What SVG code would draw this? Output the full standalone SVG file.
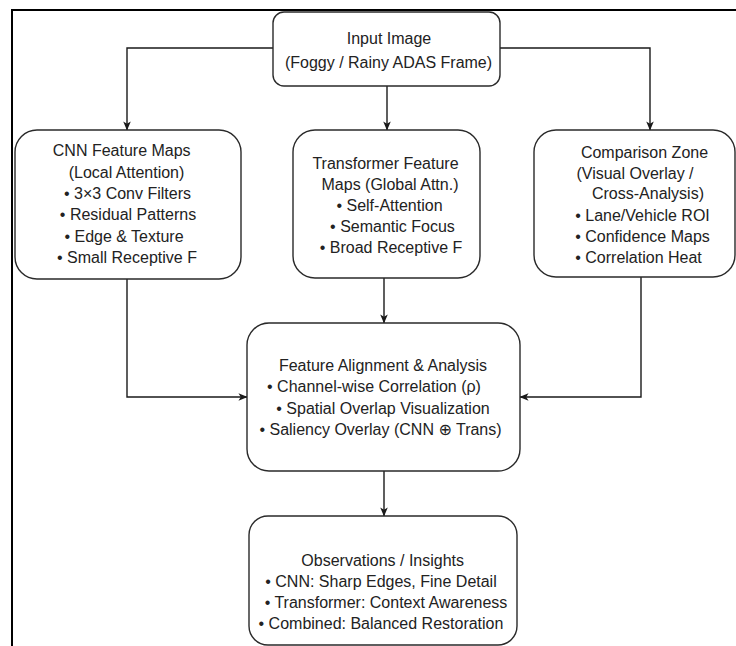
<svg xmlns="http://www.w3.org/2000/svg" width="736" height="646" viewBox="0 0 736 646">
<defs>
<style>
.box{fill:#fff;stroke:#2a2a2a;stroke-width:1.4}
.frame{fill:none;stroke:#000;stroke-width:2}
.edge{fill:none;stroke:#1a1a1a;stroke-width:1.4}
.t{font-family:"Liberation Sans",Arial,"DejaVu Sans",sans-serif;font-size:16px;fill:#222;text-anchor:middle}
</style>
<marker id="arr" viewBox="0 0 10 10" refX="9.5" refY="5" markerWidth="9" markerHeight="9" markerUnits="userSpaceOnUse" orient="auto">
<path d="M0,0.8 L10,5 L0,9.2 L2.6,5 z" fill="#1a1a1a"/>
</marker>
</defs>
<rect width="736" height="646" fill="#fff"/>
<path class="frame" d="M12,646 V10 H736"/>

<g id="connectors">
<path class="edge" d="M273,48 H127 V130" marker-end="url(#arr)"/>
<path class="edge" d="M387,86 V130" marker-end="url(#arr)"/>
<path class="edge" d="M500,48 H650 V130" marker-end="url(#arr)"/>
<path class="edge" d="M127,279 V397 H247" marker-end="url(#arr)"/>
<path class="edge" d="M384,278 V323" marker-end="url(#arr)"/>
<path class="edge" d="M641,277 V397 H520" marker-end="url(#arr)"/>
<path class="edge" d="M384,471 V516" marker-end="url(#arr)"/>
</g>

<g id="input-image">
<rect class="box" x="273" y="12" width="227" height="74" rx="11" ry="11"/>
<text class="t" x="389" y="43.5">Input Image</text>
<text class="t" x="388.5" y="67.5">(Foggy / Rainy ADAS Frame)</text>
</g>

<g id="cnn-feature-maps">
<rect class="box" x="15" y="130" width="226" height="149" rx="22" ry="22"/>
<text class="t" x="121.7" y="155.5">CNN Feature Maps</text>
<text class="t" x="126.5" y="177.5">(Local Attention)</text>
<text class="t" x="127.5" y="198.5">• 3×3 Conv Filters</text>
<text class="t" x="128" y="219.5">• Residual Patterns</text>
<text class="t" x="124" y="241.5">• Edge &amp; Texture</text>
<text class="t" x="127" y="262.5">• Small Receptive F</text>
</g>

<g id="transformer-feature-maps">
<rect class="box" x="293" y="130" width="187" height="148" rx="22" ry="22"/>
<text class="t" x="385.5" y="168.5">Transformer Feature</text>
<text class="t" x="390" y="189.5">Maps (Global Attn.)</text>
<text class="t" x="389.5" y="210.5">• Self-Attention</text>
<text class="t" x="392.5" y="231.5">• Semantic Focus</text>
<text class="t" x="391" y="252.5">• Broad Receptive F</text>
</g>

<g id="comparison-zone">
<rect class="box" x="534" y="130" width="201" height="147" rx="22" ry="22"/>
<text class="t" x="644.5" y="157.5">Comparison Zone</text>
<text class="t" x="635" y="178.5">(Visual Overlay /</text>
<text class="t" x="648" y="198.5">Cross-Analysis)</text>
<text class="t" x="642.5" y="220.5">• Lane/Vehicle ROI</text>
<text class="t" x="642.5" y="241.5">• Confidence Maps</text>
<text class="t" x="638.5" y="262.5">• Correlation Heat</text>
</g>

<g id="feature-alignment">
<rect class="box" x="247" y="323" width="273" height="148" rx="22" ry="22"/>
<text class="t" x="383" y="370.5">Feature Alignment &amp; Analysis</text>
<text class="t" x="374" y="391.5">• Channel-wise Correlation (ρ)</text>
<text class="t" x="383" y="413.5">• Spatial Overlap Visualization</text>
<text class="t" x="380.5" y="434.5">• Saliency Overlay (CNN ⊕ Trans)</text>
</g>

<g id="observations">
<rect class="box" x="249" y="516" width="268" height="129" rx="19" ry="19"/>
<text class="t" x="382.7" y="565.5">Observations / Insights</text>
<text class="t" x="381" y="586.5">• CNN: Sharp Edges, Fine Detail</text>
<text class="t" x="386" y="607.5">• Transformer: Context Awareness</text>
<text class="t" x="381" y="628.5">• Combined: Balanced Restoration</text>
</g>
</svg>
